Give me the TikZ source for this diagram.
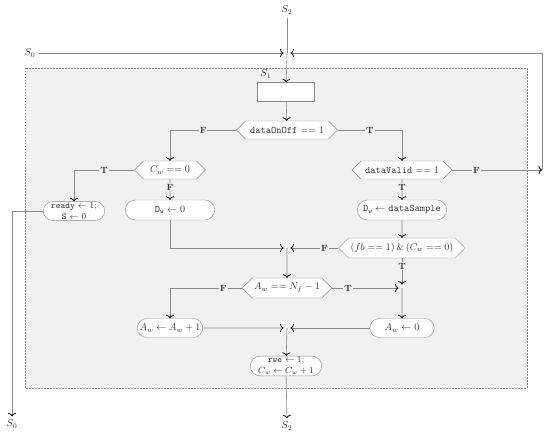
\documentclass[tikz,border=0pt]{standalone}
\usepackage{amsmath}
\usetikzlibrary{arrows.meta,shapes.symbols,shapes.misc}

\definecolor{linegray}{HTML}{8A8A8A}
\definecolor{areagray}{HTML}{F1F1F1}
\definecolor{textgray}{HTML}{333333}

\tikzset{
  flow/.style={draw=linegray, line width=0.6pt, -{To[black,line width=0.8pt,length=3.5pt,width=8pt]}},
  plain/.style={draw=linegray, line width=0.6pt},
  tojoin/.style={flow, shorten >=3.5pt},
  decide/.style={signal, signal to=west and east, draw=linegray, fill=white,
    minimum height=18pt, inner xsep=2pt, inner ysep=1pt},
  assign/.style={rounded rectangle, draw=linegray, fill=white,
    minimum height=20pt, inner ysep=1pt},
  twoline/.style={assign, align=center, font=\small, inner ysep=1pt, minimum height=10pt},
  tf/.style={fill=areagray, inner sep=1pt, font=\bfseries\small},
}

\begin{document}
\begin{tikzpicture}[x=1pt, y=-1pt, every node/.append style={text=textgray}]
    \useasboundingbox (0,0) rectangle (550,436);
    \draw[fill=areagray, draw=linegray, dash pattern=on 1.5pt off 1.5pt] (25,68) rectangle (527,388);

    % entry and exit points
    \node (s2in) at (287,10) {$S_2$};
    \node (s0in) at (30,53) {$S_0$};
    \coordinate (j0) at (287,53);
    \coordinate (back) at (542,170);

    % state S1
    \node[draw=linegray, fill=white, minimum width=57pt, minimum height=19pt] (s1) at (286,92) {};
    \node (s1lab) at (266,74) {$S_1$};
    \node[decide, minimum width=101pt] (onoff) at (287,130) {\texttt{dataOnOff} $== 1$};

    % left branch
    \node[decide, minimum width=71pt] (cw) at (170,170) {$C_w == 0$};
    \node[twoline, minimum width=68pt] (ready) at (74,211) {\texttt{ready} $\leftarrow 1$;\\ \texttt{S} $\leftarrow 0$};
    \node[assign, minimum width=96pt] (dw0) at (170,210) {$\mathtt{D}_{\mathtt{w}} \leftarrow 0$};

    % right branch
    \node[decide, minimum width=100pt] (valid) at (402,170) {\texttt{dataValid} $== 1$};
    \node[assign, minimum width=96pt] (dws) at (402,210) {$\mathtt{D}_{\mathtt{w}} \leftarrow \mathtt{dataSample}$};
    \node[decide, minimum width=120pt, minimum height=20pt] (fb) at (402,248) {$(fb == 1)\,\&\,(C_w == 0)$};
    \coordinate (j2) at (287,248);

    % address counter
    \node[decide, minimum width=81pt, minimum height=20pt] (aw) at (287,288) {$A_w == N_f - 1$};
    \coordinate (j3) at (402,288);
    \node[assign, minimum width=72pt, minimum height=19pt] (awinc) at (170,328) {$A_w \leftarrow A_w + 1$};
    \node[assign, minimum width=71pt, minimum height=19pt] (awzero) at (402,328) {$A_w \leftarrow 0$};
    \coordinate (j4) at (287,328);
    \node[twoline, minimum width=78pt] (rwe) at (286,366) {\texttt{rwe} $\leftarrow 1$;\\ $C_w \leftarrow C_w + 1$};

    \node (s2out) at (287,426) {$S_2$};
    \node (s0out) at (12,424) {$S_0$};

    % connectors
    \draw[plain] (s2in) -- (j0);
    \draw[tojoin] (s0in) -- (j0);
    \draw[tojoin] (back) |- (j0);
    \draw[flow] (j0) -- (s1);
    \draw[flow] (s1) -- (onoff);
    \draw[flow] (onoff.west) -| node[tf, pos=0.25] {F} (cw.north);
    \draw[flow] (onoff.east) -| node[tf, pos=0.25] {T} (valid.north);
    \draw[flow] (cw.west) -| node[tf, pos=0.25] {T} (ready.north);
    \draw[flow] (cw) -- node[tf, pos=0.4] {F} (dw0);
    \draw[flow] (ready.west) -| (s0out.north);
    \draw[flow] (valid.east) -- node[tf, pos=0.27] {F} (back);
    \draw[flow] (valid) -- node[tf, pos=0.4] {T} (dws);
    \draw[tojoin] (dw0) |- (j2);
    \draw[flow] (dws) -- (fb);
    \draw[tojoin] (fb.west) -- node[tf, pos=0.27] {F} (j2);
    \draw[tojoin] (fb) -- node[tf, pos=0.27] {T} (j3);
    \draw[flow] (j2) -- (aw);
    \draw[flow] (aw.west) -| node[tf, pos=0.13] {F} (awinc.north);
    \draw[tojoin] (aw.east) -- node[tf, pos=0.23] {T} (j3);
    \draw[flow] (j3) -- (awzero);
    \draw[tojoin] (awinc) -- (j4);
    \draw[tojoin] (awzero) -- (j4);
    \draw[flow] (j4) -- (rwe);
    \draw[flow] (rwe) -- (s2out);
\end{tikzpicture}
\end{document}
